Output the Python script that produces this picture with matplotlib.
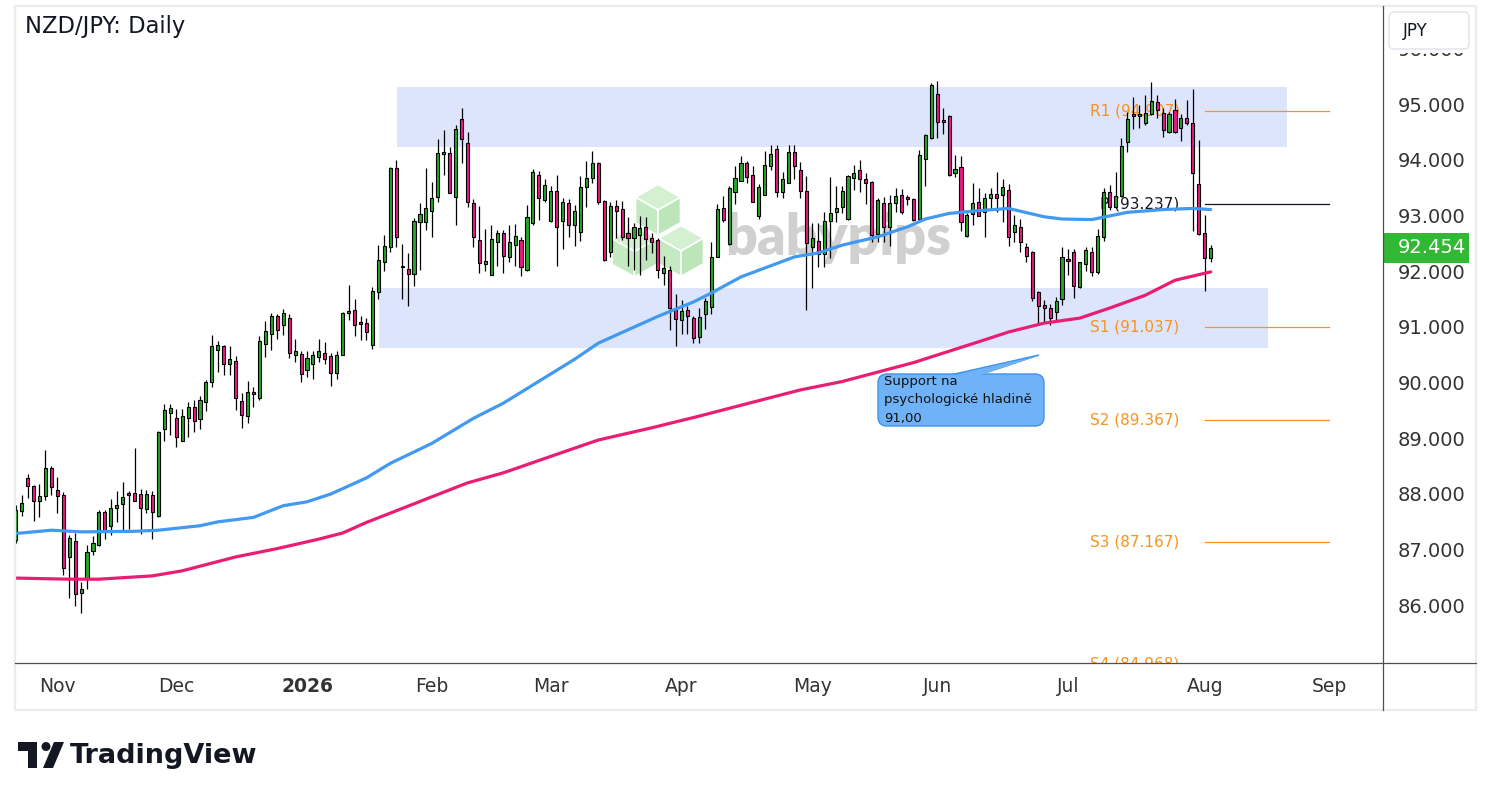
import numpy as np
import pandas as pd
import matplotlib
matplotlib.use("Agg")
import matplotlib.pyplot as plt
from matplotlib.patches import Rectangle, FancyBboxPatch, Polygon, Circle
from matplotlib.transforms import blended_transform_factory, IdentityTransform

W, H = 1491, 801

# ---------------- data ----------------
opens = [87.21, 87.73, 88.32, 88.18, 87.91, 87.99, 88.50, 88.10, 88.01, 86.90,
 87.19, 86.25, 86.51, 87.00, 87.11, 87.71, 87.46, 87.77, 87.85, 88.03,
 88.05, 88.03, 87.76, 88.01, 87.63, 89.20, 89.48, 89.39, 88.99, 89.39,
 89.59, 89.38, 89.69, 90.04, 90.61, 90.69, 90.36, 90.42, 89.70, 89.44,
 89.87, 89.76, 90.72, 90.90, 91.23, 91.06, 91.19, 90.52, 90.54, 90.25,
 90.36, 90.49, 90.56, 90.51, 90.20, 90.52, 91.28, 91.33, 91.10, 91.10,
 90.70, 91.66, 92.19, 92.47, 93.88, 92.11, 92.07, 91.99, 92.92, 92.92,
 93.12, 93.37, 94.14, 94.15, 93.37, 94.76, 94.33, 93.25, 92.59, 92.16,
 91.96, 92.56, 92.71, 92.29, 92.51, 92.59, 92.06, 92.89, 93.76, 93.31,
 92.94, 93.47, 92.94, 93.25, 92.87, 92.73, 93.54, 93.70, 93.97, 93.30,
 92.38, 93.20, 93.15, 92.72, 92.62, 92.68, 92.82, 92.62, 92.59, 92.00,
 92.05, 91.34, 91.15, 91.33, 91.19, 90.85, 91.26, 91.39, 92.28, 93.16,
 92.52, 93.46, 93.66, 93.97, 93.76, 93.03, 93.41, 93.92, 94.22, 93.46,
 93.62, 94.17, 93.85, 93.48, 92.46, 92.58, 92.34, 92.94, 93.10, 93.19,
 92.97, 93.70, 93.85, 93.68, 93.63, 92.70, 93.25, 92.83, 93.25, 93.40,
 93.36, 93.33, 92.97, 94.04, 94.42, 95.21, 94.74, 94.82, 93.80, 93.90,
 92.66, 93.06, 93.27, 93.09, 93.34, 93.42, 93.41, 93.49, 92.73, 92.83,
 92.46, 92.37, 91.66, 91.43, 91.37, 91.30, 91.54, 92.25, 92.38, 91.75,
 92.16, 92.38, 92.01, 92.65, 93.45, 93.18, 93.39, 94.35, 94.83, 94.82,
 94.69, 94.85, 95.07, 94.87, 94.53, 94.93, 94.60, 94.79, 94.69, 93.59,
 92.72, 92.27]

highs = [87.84, 88.02, 88.39, 88.20, 88.21, 88.82, 88.53, 88.33, 88.06, 87.30,
 87.33, 86.45, 87.12, 87.28, 87.75, 87.75, 87.94, 88.08, 88.24, 88.09,
 88.86, 88.12, 88.11, 88.09, 89.17, 89.65, 89.65, 89.56, 89.56, 89.69,
 89.72, 89.79, 90.08, 90.89, 90.77, 90.71, 90.69, 90.51, 89.84, 90.06,
 89.95, 90.86, 91.14, 91.28, 91.27, 91.35, 91.26, 90.82, 90.60, 90.60,
 90.60, 90.82, 90.76, 90.56, 90.60, 91.30, 91.79, 91.54, 91.22, 91.19,
 91.75, 92.50, 92.68, 93.91, 94.03, 92.52, 92.36, 92.98, 93.25, 93.88,
 93.64, 94.41, 94.57, 94.26, 94.66, 94.96, 94.54, 93.33, 93.20, 92.79,
 92.86, 92.77, 92.77, 92.86, 92.88, 92.65, 93.22, 93.86, 93.83, 93.69,
 93.56, 93.76, 93.34, 93.33, 93.22, 93.74, 94.01, 94.19, 94.00, 93.32,
 93.28, 93.31, 93.30, 93.00, 92.90, 93.03, 93.01, 92.71, 92.62, 92.31,
 92.12, 91.62, 91.52, 91.40, 91.22, 91.37, 91.56, 92.55, 93.24, 93.38,
 93.56, 93.92, 94.10, 94.01, 93.92, 93.60, 94.19, 94.30, 94.30, 93.82,
 94.30, 94.30, 94.00, 93.75, 92.89, 92.89, 93.10, 93.73, 93.56, 93.56,
 93.76, 93.94, 94.03, 93.79, 93.65, 93.34, 93.37, 93.41, 93.52, 93.51,
 93.41, 93.34, 94.21, 94.50, 95.41, 95.45, 94.96, 94.84, 94.12, 94.11,
 93.07, 93.61, 93.52, 93.43, 93.52, 93.81, 93.68, 93.59, 93.04, 92.97,
 92.54, 92.40, 91.68, 91.52, 91.44, 91.57, 92.46, 92.43, 92.43, 92.20,
 92.47, 92.47, 92.79, 93.53, 93.58, 93.82, 94.42, 94.90, 95.17, 95.02,
 95.20, 95.44, 95.19, 94.96, 94.90, 95.13, 94.85, 95.11, 95.31, 94.39,
 93.05, 92.50]

lows = [87.15, 87.64, 87.95, 87.55, 87.61, 87.93, 88.02, 87.69, 86.58, 86.16,
 86.01, 85.89, 86.33, 86.94, 87.09, 87.23, 87.30, 87.53, 87.36, 87.41,
 87.90, 87.31, 87.69, 87.23, 87.62, 88.99, 89.09, 88.88, 88.99, 89.06,
 89.14, 89.20, 89.53, 89.95, 90.23, 90.17, 90.16, 89.54, 89.22, 89.30,
 89.60, 89.72, 90.50, 90.61, 90.82, 90.88, 90.48, 90.40, 90.05, 90.14,
 90.10, 90.40, 90.36, 89.97, 90.10, 90.52, 91.16, 90.86, 90.79, 90.80,
 90.63, 91.53, 92.04, 92.38, 92.47, 91.53, 91.41, 91.76, 92.06, 92.77,
 92.65, 93.28, 93.76, 93.43, 92.86, 93.98, 93.19, 92.46, 92.00, 92.04,
 91.96, 92.13, 92.00, 92.20, 92.13, 91.94, 92.03, 92.86, 92.95, 93.28,
 92.92, 92.13, 92.43, 92.65, 92.49, 92.58, 93.19, 93.62, 93.24, 92.22,
 92.29, 92.62, 92.59, 92.13, 92.06, 91.97, 92.24, 92.36, 91.91, 91.79,
 90.98, 90.68, 90.91, 90.91, 90.74, 90.74, 91.00, 91.27, 92.28, 92.92,
 92.50, 93.24, 93.66, 93.61, 93.27, 92.97, 93.40, 93.85, 93.37, 93.34,
 93.61, 93.68, 93.34, 91.34, 91.73, 92.11, 92.11, 92.27, 92.92, 93.07,
 92.95, 93.49, 93.45, 93.24, 92.56, 92.55, 92.56, 92.49, 93.09, 93.06,
 93.22, 92.94, 92.95, 93.57, 94.40, 94.42, 94.50, 93.75, 93.73, 92.76,
 92.64, 92.86, 93.03, 92.64, 93.13, 93.10, 92.92, 92.49, 92.56, 92.38,
 92.19, 91.49, 91.08, 91.10, 91.06, 91.13, 91.43, 91.97, 91.56, 91.73,
 92.03, 91.95, 91.99, 92.58, 93.13, 93.16, 93.37, 94.18, 94.59, 94.60,
 94.66, 94.84, 94.78, 94.45, 94.51, 94.51, 94.37, 94.66, 92.76, 92.68,
 91.67, 92.20]

closes = [87.75, 87.87, 88.18, 87.91, 88.00, 88.50, 88.16, 87.99, 86.70, 87.24,
 86.23, 86.32, 86.99, 87.15, 87.71, 87.37, 87.77, 87.83, 87.97, 88.02,
 87.90, 87.77, 88.03, 87.71, 89.15, 89.54, 89.57, 89.06, 89.43, 89.60,
 89.35, 89.72, 90.04, 90.69, 90.71, 90.36, 90.45, 89.75, 89.45, 89.87,
 89.83, 90.78, 90.96, 91.23, 90.97, 91.28, 90.56, 90.60, 90.18, 90.47,
 90.52, 90.60, 90.45, 90.21, 90.52, 91.28, 91.30, 91.06, 91.09, 90.94,
 91.67, 92.24, 92.48, 93.88, 92.64, 92.10, 91.98, 92.94, 93.06, 93.16,
 93.34, 94.15, 94.15, 93.43, 94.58, 94.40, 93.28, 92.65, 92.18, 92.21,
 92.61, 92.71, 92.31, 92.55, 92.66, 92.10, 93.00, 93.82, 93.34, 93.58,
 93.47, 92.83, 93.27, 92.87, 93.11, 93.54, 93.70, 93.97, 93.27, 92.24,
 93.20, 93.11, 92.65, 92.62, 92.82, 92.80, 92.61, 92.55, 92.06, 92.09,
 91.37, 91.17, 91.31, 91.23, 90.83, 91.21, 91.50, 92.28, 93.15, 92.95,
 93.52, 93.70, 93.97, 93.73, 93.27, 93.54, 93.94, 94.14, 93.46, 93.68,
 94.18, 93.93, 93.48, 92.54, 92.62, 92.34, 92.94, 93.07, 93.16, 93.47,
 93.74, 93.79, 93.68, 93.61, 92.68, 93.32, 92.82, 93.25, 93.38, 93.10,
 93.33, 92.95, 94.12, 94.48, 95.38, 94.72, 94.72, 93.76, 93.86, 92.91,
 93.04, 93.25, 93.03, 93.34, 93.42, 93.34, 93.54, 92.65, 92.86, 92.55,
 92.31, 91.56, 91.40, 91.37, 91.19, 91.49, 92.28, 92.22, 91.77, 92.19,
 92.41, 92.01, 92.67, 93.45, 93.19, 93.39, 94.29, 94.77, 94.82, 94.83,
 94.87, 95.09, 94.93, 94.56, 94.85, 94.54, 94.79, 94.69, 93.79, 92.70,
 92.27, 92.454]

first_day = "2025-10-23"
last_axis_day = "2026-09-30"
holidays = ["2025-12-25", "2026-01-01"]

ma_blue_idx = [0, 6, 11, 20, 24, 31, 34, 40, 45, 49, 53, 59, 63, 70, 77, 82, 94, 98,
               103, 108, 114, 117, 122, 125, 131, 135, 139, 145, 150, 153, 157, 162,
               167, 173, 176, 181, 187, 193, 198, 201]
ma_blue_val = [87.32, 87.38, 87.35, 87.36, 87.38, 87.46, 87.53, 87.61, 87.82, 87.89,
               88.03, 88.32, 88.58, 88.94, 89.39, 89.66, 90.45, 90.74, 90.98, 91.22,
               91.48, 91.64, 91.93, 92.05, 92.29, 92.36, 92.50, 92.65, 92.83, 92.97,
               93.07, 93.12, 93.16, 93.01, 92.97, 92.96, 93.09, 93.14, 93.16, 93.14]

ma_pink_idx = [0, 9, 14, 23, 28, 37, 44, 51, 55, 59, 65, 70, 76, 82, 92, 98, 107, 115,
               124, 132, 139, 151, 163, 167, 173, 179, 184, 190, 195, 201]
ma_pink_val = [86.52, 86.50, 86.50, 86.56, 86.65, 86.90, 87.05, 87.22, 87.33, 87.52,
               87.77, 87.98, 88.23, 88.41, 88.78, 89.00, 89.22, 89.43, 89.68, 89.90,
               90.05, 90.39, 90.80, 90.94, 91.10, 91.19, 91.37, 91.60, 91.87, 92.02]

pivot_names = ["R1", "P", "S1", "S2", "S3", "S4"]
pivot_values = [94.907, 93.237, 91.037, 89.367, 87.167, 84.968]

zone_tops = [95.34, 91.73]
zone_bottoms = [94.26, 90.65]

price_ticks = [86, 87, 88, 89, 90, 91, 92, 93, 94, 95, 96]

# ---------------- colors ----------------
UP = "#2aa52a"
DOWN = "#ea1a7f"
BLUE = "#4299f0"
PINK = "#e91e73"
ORANGE = "#f7931e"
ZONE = "#dde5fd"
TXT = "#333333"

# ---------------- figure ----------------
fig = plt.figure(figsize=(W / 100, H / 100), dpi=100)
fig.patch.set_facecolor("white")

AX_L, AX_R, AX_T, AX_B = 15, 1383, 6, 663
ax = fig.add_axes([AX_L / W, (H - AX_B) / H, (AX_R - AX_L) / W, (AX_B - AX_T) / H])
for s in ax.spines.values():
    s.set_visible(False)
ax.set_xticks([])
ax.set_yticks([])
ax.set_facecolor("white")

bar_px = 5.945
x0_px = 15.7
ax.set_xlim((AX_L - x0_px) / bar_px, (AX_R - x0_px) / bar_px)
ppu = 55.67
ax.set_ylim(95 - (AX_B - 106) / ppu, 95 + (106 - AX_T) / ppu)

# dates (weekdays, minus feed holidays)
days = pd.bdate_range(first_day, last_axis_day)
days = days[~days.isin(pd.to_datetime(holidays))]
n = len(closes)
idx = np.arange(n)

# zones
zone_x = [(64.1, 213.8), (61.1, 210.6)]
for (xa, xb), top, bot in zip(zone_x, zone_tops, zone_bottoms):
    ax.add_patch(Rectangle((xa, bot), xb - xa, top - bot, facecolor=ZONE,
                           edgecolor="none", zorder=0.5))

# watermark (babypips)
def P(x, y):
    return (x, H - y)

def cube(cx, cy, w=22.5, h=25.5):
    top = [P(cx, cy - h), P(cx + w, cy - h / 2), P(cx, cy), P(cx - w, cy - h / 2)]
    left = [P(cx - w, cy - h / 2), P(cx, cy), P(cx, cy + h), P(cx - w, cy + h / 2)]
    right = [P(cx, cy), P(cx + w, cy - h / 2), P(cx + w, cy + h / 2), P(cx, cy + h)]
    for pts, col in ((top, "#d3f0d1"), (left, "#c4eac2"), (right, "#bce5ba")):
        ax.add_patch(Polygon(pts, closed=True, facecolor=col, edgecolor="white",
                             lw=1.2, transform=IdentityTransform(), zorder=0.6))

cube(658, 210)
cube(634.5, 251.5)
cube(681, 251)
ax.text(838 / W, 1 - 255 / H, "babypips", transform=fig.transFigure, ha="center",
        va="baseline", fontsize=40, fontfamily="Lato", fontweight="heavy",
        color="#d0d0d0", zorder=0.7)

# pivot levels
line_x0, line_x1, label_x = 200.05, 220.9, 195.8
for name, val in zip(pivot_names, pivot_values):
    col = "#131722" if name == "P" else ORANGE
    ax.plot([line_x0, line_x1], [val, val], color=col, lw=0.9, zorder=2.5)
    ax.text(label_x, val, f"{name} ({val:.3f})", color=col, fontsize=11,
            ha="right", va="center", zorder=2, clip_on=True)

# candles
o = np.array(opens); h_ = np.array(highs); l_ = np.array(lows); c = np.array(closes)
up = c >= o
ax.vlines(idx, l_, h_, color="black", lw=0.9, zorder=3)
body_lo = np.minimum(o, c)
body_h = np.maximum(np.abs(c - o), 0.03)
ax.bar(idx, body_h, bottom=body_lo, width=0.52,
       color=np.where(up, UP, DOWN), edgecolor="black", linewidth=0.8, zorder=3.2)

# moving averages
ax.plot(ma_blue_idx, ma_blue_val, color=BLUE, lw=2.3, zorder=4, solid_capstyle="round")
ax.plot(ma_pink_idx, ma_pink_val, color=PINK, lw=2.3, zorder=4, solid_capstyle="round")

# x-axis month labels
xtr = ax.get_xaxis_transform()
months = days.to_period("M")
for j in range(1, len(days)):
    if months[j] != months[j - 1]:
        d = days[j]
        lab = str(d.year) if d.month == 1 else d.strftime("%b")
        ax.text(j, (AX_B - 687) / (AX_B - AX_T), lab, transform=xtr, ha="center",
                va="center", fontsize=13.5, color=TXT, clip_on=False,
                fontweight="bold" if d.month == 1 else "normal")

# right price axis labels
ytr = blended_transform_factory(fig.transFigure, ax.transData)
for t in price_ticks:
    ax.text(1398 / W, t, f"{t:.3f}", transform=ytr, ha="left", va="center",
            fontsize=14, color=TXT, clip_on=False, zorder=5)

# last price tag
last = closes[-1]
tag_h = 30 / ppu
ax.add_patch(Rectangle((AX_R / W, last - tag_h / 2), 86 / W, tag_h, transform=ytr,
                       facecolor="#33b833", edgecolor="none", clip_on=False, zorder=6))
ax.text(1398 / W, last, f"{last:.3f}", transform=ytr, ha="left", va="center",
        fontsize=14, color="white", clip_on=False, zorder=7)

# callout
tail = [P(950, 375), P(1039, 355), P(979, 375)]
fig.add_artist(Polygon(tail, closed=True, facecolor="#70b2f7", edgecolor="#3f93ea",
                       lw=1.0, transform=IdentityTransform(), zorder=8))
bx0, by0, bx1, by1 = 878, 374, 1044, 426
fig.add_artist(FancyBboxPatch(P(bx0, by1), bx1 - bx0, by1 - by0,
                              boxstyle="round,pad=0,rounding_size=9",
                              facecolor="#70b2f7", edgecolor="#3f93ea", lw=1.0,
                              transform=IdentityTransform(), zorder=8))
fig.add_artist(Polygon([P(951, 376), P(1036, 356.5), P(978, 376)], closed=True,
                       facecolor="#70b2f7", edgecolor="none",
                       transform=IdentityTransform(), zorder=8.5))
for k, line in enumerate(["Support na", "psychologické hladině", "91,00"]):
    fig.text(884 / W, 1 - (381 + 19 * k) / H, line, fontsize=9.5, color="#111111",
             ha="left", va="center", zorder=9)

# frame / separators
fig.add_artist(Rectangle(P(15, 710), 1476 - 15, 710 - 6, transform=IdentityTransform(),
                         facecolor="none", edgecolor="#ececec", lw=1.6, zorder=1))
fig.add_artist(plt.Line2D([15 / W, 1476 / W], [1 - 663 / H, 1 - 663 / H],
                          color="#4f4f4f", lw=0.9, zorder=2))
fig.add_artist(plt.Line2D([1383 / W, 1383 / W], [1 - 6 / H, 1 - 710 / H],
                          color="#4f4f4f", lw=0.9, zorder=2))

# JPY box (with white backing that hides most of the top price label)
fig.add_artist(Rectangle(P(1386, 53), 88, 45, transform=IdentityTransform(),
                         facecolor="white", edgecolor="none", zorder=9.5))
fig.add_artist(FancyBboxPatch(P(1389, 49), 80, 37, boxstyle="round,pad=0,rounding_size=5",
                              facecolor="white", edgecolor="#e0e3eb", lw=1.0,
                              transform=IdentityTransform(), zorder=10))
fig.text(1403 / W, 1 - 31 / H, "JPY", fontsize=12, color="#131722", ha="left",
         va="center", zorder=11)

# title
fig.text(25 / W, 1 - 27 / H, "NZD/JPY: Daily", fontsize=16.3, color="#131722",
         ha="left", va="center", zorder=11)

# TradingView logo
fig.add_artist(Polygon([P(18, 742), P(37, 742), P(37, 768), P(28, 768), P(28, 751), P(18, 751)],
                       closed=True, facecolor="#131722", edgecolor="none",
                       transform=IdentityTransform(), zorder=11))
fig.add_artist(Circle(P(46, 746.5), 4.5, facecolor="#131722", edgecolor="none",
                      transform=IdentityTransform(), zorder=11))
fig.add_artist(Polygon([P(54, 742), P(64, 742), P(53, 768), P(43, 768)], closed=True,
                       facecolor="#131722", edgecolor="none",
                       transform=IdentityTransform(), zorder=11))
fig.text(70 / W, 1 - 756 / H, "TradingView", fontsize=19.5, fontweight="bold",
         color="#131722", ha="left", va="center", zorder=11)

fig.savefig("out.png", dpi=100)
